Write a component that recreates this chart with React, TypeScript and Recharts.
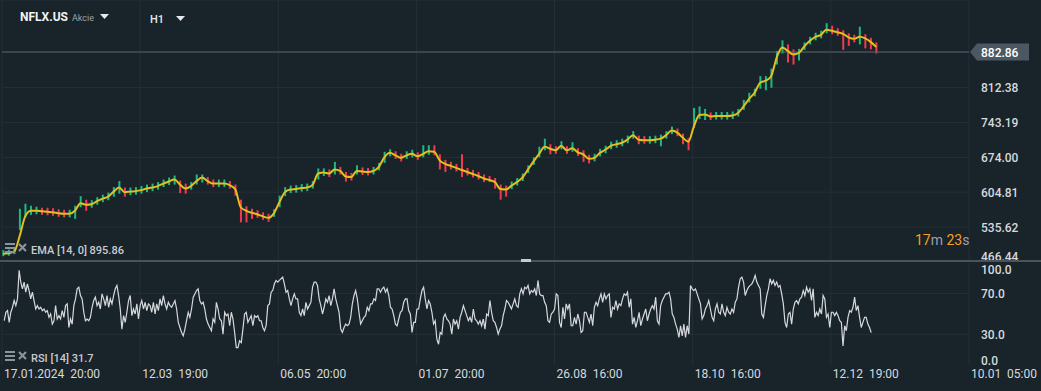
import { Bar, CartesianGrid, Cell, ComposedChart, Line, LineChart, ReferenceLine, XAxis, YAxis } from 'recharts';

const BG = '#19232a';
const GRID = '#252f38';
const AXIS_TEXT = '#d6dadd';
const FONT = 'Roboto, "Noto Sans", sans-serif';

// EMA(14) of NFLX.US, hourly, read every ~10 bars
const emaValues = [
  483, 484, 487, 518, 557, 568, 568, 567, 566, 565,
  563, 562, 562, 568, 583, 580, 581, 587, 592, 596,
  606, 614, 605, 606, 607, 609, 612, 614, 617, 622,
  626, 630, 620, 612, 617, 627, 634, 627, 622, 622,
  622, 619, 611, 575, 568, 564, 561, 557, 554, 563,
  585, 605, 610, 611, 613, 614, 619, 642, 644, 642,
  650, 647, 636, 635, 647, 646, 645, 647, 655, 674,
  683, 678, 673, 678, 681, 676, 681, 686, 685, 668,
  661, 657, 653, 649, 645, 641, 637, 632, 629, 625,
  611, 610, 618, 625, 634, 650, 666, 681, 695, 691,
  688, 697, 688, 692, 684, 680, 671, 673, 683, 689,
  697, 700, 703, 709, 718, 709, 708, 708, 709, 711,
  718, 727, 723, 713, 705, 735, 758, 759, 755, 756,
  756, 756, 757, 762, 775, 790, 802, 822, 826, 835,
  872, 892, 885, 878, 881, 894, 905, 913, 917, 927,
  925, 922, 919, 912, 909, 913, 910, 903, 893,
];

const candleHigh = [
  490, 491, 495, 572, 582, 578, 576, 574, 574, 573,
  571, 570, 570, 578, 597, 590, 589, 595, 600, 604,
  615, 627, 614, 614, 615, 617, 620, 622, 625, 630,
  634, 638, 628, 622, 625, 640, 640, 635, 630, 630,
  630, 627, 620, 590, 577, 572, 569, 565, 562, 571,
  598, 615, 618, 619, 621, 622, 627, 652, 652, 650,
  665, 655, 645, 643, 658, 654, 653, 655, 663, 685,
  690, 686, 681, 686, 689, 684, 698, 698, 698, 680,
  669, 665, 661, 680, 653, 649, 645, 640, 637, 633,
  620, 618, 626, 633, 642, 658, 674, 695, 711, 700,
  696, 706, 696, 704, 692, 688, 679, 681, 691, 697,
  705, 708, 711, 717, 726, 717, 716, 716, 717, 719,
  726, 735, 731, 721, 712, 772, 775, 770, 763, 764,
  764, 764, 765, 770, 788, 802, 810, 835, 835, 850,
  885, 906, 898, 888, 889, 902, 913, 921, 925, 940,
  935, 930, 926, 920, 917, 933, 918, 911, 902,
];

const candleLow = [
  478, 479, 482, 530, 555, 560, 561, 560, 559, 558,
  556, 555, 555, 552, 575, 568, 574, 580, 585, 589,
  596, 602, 596, 599, 600, 602, 605, 607, 610, 615,
  619, 620, 603, 602, 610, 620, 624, 620, 615, 615,
  615, 612, 598, 545, 545, 552, 554, 550, 546, 556,
  575, 597, 603, 604, 606, 607, 612, 630, 637, 635,
  640, 640, 626, 628, 640, 639, 638, 640, 648, 663,
  676, 671, 666, 671, 674, 669, 674, 679, 678, 650,
  645, 650, 646, 635, 638, 634, 630, 625, 625, 612,
  590, 596, 611, 618, 627, 643, 659, 674, 688, 680,
  681, 690, 681, 685, 677, 665, 662, 666, 676, 682,
  690, 693, 696, 702, 711, 700, 701, 701, 702, 696,
  711, 720, 716, 700, 688, 732, 750, 748, 748, 749,
  749, 749, 750, 755, 768, 783, 795, 810, 807, 812,
  858, 880, 862, 858, 866, 887, 898, 906, 910, 920,
  918, 915, 887, 895, 902, 898, 890, 888, 880,
];

// RSI(14), read every ~3 bars
const rsiValues = [
  43.4, 51.7, 53.3, 41.8, 51.7, 56.6, 63.2, 58.2, 64.8, 92.8,
  81.3, 74.7, 81.3, 71.4, 79.6, 73.0, 64.8, 71.4, 63.2, 54.9,
  58.2, 54.9, 56.6, 53.3, 54.9, 51.7, 53.3, 46.7, 50.0, 40.1,
  43.4, 58.2, 45.1, 48.4, 45.1, 53.3, 46.7, 58.2, 59.9, 36.8,
  45.1, 40.1, 58.2, 64.8, 74.7, 76.3, 68.1, 64.8, 51.7, 43.4,
  45.1, 43.4, 46.7, 56.6, 63.2, 66.5, 58.2, 61.5, 54.9, 69.7,
  64.8, 58.2, 68.1, 56.6, 64.8, 59.9, 68.1, 74.7, 78.0, 68.1,
  54.9, 35.2, 48.4, 41.8, 51.7, 63.2, 68.1, 48.4, 54.9, 50.0,
  59.9, 45.1, 58.2, 63.2, 54.9, 61.5, 53.3, 59.9, 58.2, 51.7,
  61.5, 50.0, 59.9, 53.3, 64.8, 58.2, 68.1, 59.9, 54.9, 61.5,
  58.2, 56.6, 59.9, 63.2, 54.9, 41.8, 36.8, 31.9, 28.6, 35.2,
  43.4, 51.7, 46.7, 54.9, 66.5, 69.7, 73.0, 74.7, 63.2, 59.9,
  61.5, 54.9, 45.1, 40.1, 36.8, 33.6, 45.1, 41.8, 61.5, 54.9,
  45.1, 43.4, 30.3, 51.7, 48.4, 50.0, 38.5, 51.7, 45.1, 31.9,
  17.1, 17.1, 23.7, 22.0, 35.2, 50.0, 51.7, 41.8, 45.1, 48.4,
  38.5, 48.4, 46.7, 48.4, 43.4, 43.4, 36.8, 33.6, 38.5, 58.2,
  59.9, 71.4, 73.0, 79.6, 82.9, 81.3, 82.9, 84.6, 86.2, 79.6,
  71.4, 73.0, 64.8, 58.2, 64.8, 69.7, 64.8, 64.8, 51.7, 48.4,
  54.9, 48.4, 61.5, 54.9, 58.2, 61.5, 76.3, 81.3, 81.3, 78.0,
  64.8, 58.2, 50.0, 56.6, 64.8, 61.5, 68.1, 58.2, 64.8, 74.7,
  64.8, 58.2, 51.7, 35.2, 31.9, 36.8, 40.1, 38.5, 40.1, 46.7,
  59.9, 68.1, 73.0, 64.8, 51.7, 40.1, 43.4, 46.7, 48.4, 56.6,
  53.3, 59.9, 59.9, 64.8, 63.2, 74.7, 74.7, 71.4, 74.7, 76.3,
  71.4, 74.7, 68.1, 56.6, 54.9, 48.4, 40.1, 38.5, 45.1, 51.7,
  53.3, 61.5, 64.8, 64.8, 53.3, 50.0, 31.9, 41.8, 41.8, 54.9,
  54.9, 64.8, 73.0, 76.3, 64.8, 54.9, 63.2, 59.9, 51.7, 40.1,
  43.4, 25.3, 20.4, 31.9,
  30.3, 46.7, 50.0, 45.1, 43.4, 40.1, 30.3, 45.1, 40.1, 43.4,
  35.2, 46.7, 51.7, 58.2, 53.3, 48.4, 43.4, 46.7, 41.8, 54.9,
  45.1, 43.4, 40.1, 43.4, 38.5, 45.1, 35.2, 50.0, 48.4, 63.2,
  51.7, 43.4, 41.8, 36.8, 30.3, 35.2, 38.5, 48.4, 54.9, 63.2,
  61.5, 58.2, 54.9, 59.9, 64.8, 58.2, 56.6, 69.7, 74.7, 69.7,
  76.3, 74.7, 78.0, 69.7, 73.0, 71.4, 74.7, 68.1, 82.9, 69.7,
  68.1, 68.1, 61.5, 58.2, 43.4, 41.8, 50.0, 51.7, 54.9, 69.7,
  68.1, 41.8, 36.8, 56.6, 45.1, 59.9, 54.9, 59.9, 38.5, 38.5,
  46.7, 40.1, 50.0, 43.4, 31.9, 33.6, 51.7, 51.7, 46.7, 41.8,
  50.0, 38.5, 56.6, 61.5, 58.2, 64.8, 69.7, 61.5, 69.7, 64.8,
  68.1, 69.7, 46.7, 56.6, 54.9, 63.2, 54.9, 59.9, 58.2, 64.8,
  69.7, 68.1, 71.4, 56.6, 64.8, 40.1, 46.7, 36.8, 43.4, 51.7,
  38.5, 45.1, 50.0, 54.9, 43.4, 50.0, 54.9, 58.2, 54.9, 66.5,
  43.4, 40.1, 58.2, 63.2, 66.5, 69.7, 69.7, 71.4, 64.8, 50.0,
  46.7, 40.1, 35.2, 27.0, 38.5, 28.6, 40.1, 27.0, 38.5, 30.3,
  78.0, 74.7, 73.0, 74.7, 69.7, 64.8, 59.9, 45.1, 48.4, 54.9,
  58.2, 63.2, 54.9, 46.7, 43.4, 54.9, 59.9, 51.7, 50.0, 59.9,
  51.7, 48.4, 56.6, 51.7, 50.0, 54.9, 51.7, 61.5, 64.8, 76.3,
  84.6, 86.2, 81.3, 68.1, 73.0, 76.3, 78.0, 79.6, 82.9, 87.8,
  81.3, 78.0, 74.7, 50.0, 46.7, 58.2, 68.1, 74.7, 84.6, 79.6,
  82.9, 78.0, 81.3, 76.3, 78.0, 69.7, 59.9, 41.8, 36.8, 50.0,
  51.7, 40.1, 54.9, 61.5, 63.2, 59.9, 64.8, 66.5, 73.0, 68.1,
  76.3, 71.4, 74.7, 63.2, 74.7, 46.7, 51.7, 48.4, 54.9, 50.0,
  68.1, 64.8, 46.7, 50.0, 36.8, 51.7, 51.7, 48.4, 51.7, 48.4,
  43.4, 41.8, 18.7, 38.5, 33.6, 46.7, 53.3, 51.7, 56.6, 66.5,
  53.3, 58.2, 46.7, 36.8, 41.8, 46.7, 46.7, 40.1, 36.8, 31.7,
];

const timeTicks = [0, 250, 500, 750, 1000, 1250, 1500, 1750];
const timeLabels = [
  '17.01.2024  20:00',
  '12.03  19:00',
  '06.05  20:00',
  '01.07  20:00',
  '26.08  16:00',
  '18.10  16:00',
  '12.12  19:00',
  '10.01  05:00',
];
const priceTicks = [466.44, 535.62, 604.81, 674.0, 743.19, 812.38];
const lastPrice = 882.86;
const rsiTicks = [0, 30, 70, 100];

const priceData = emaValues.map((ema, i) => ({
  t: 2 + i * 10,
  ema,
  range: [candleLow[i], candleHigh[i]],
  up: i === 0 || ema >= emaValues[i - 1],
}));
const rsiData = rsiValues.map((rsi, k) => ({ t: 4 + k * 3, rsi }));

function PriceTick(props: any) {
  const { x, y, payload } = props;
  const v = payload.value;
  if (v === lastPrice) {
    return (
      <g>
        <path
          d={`M${x - 11},${y} L${x - 4},${y - 8.5} L${x + 48},${y - 8.5} L${x + 48},${y + 8.5} L${x - 4},${y + 8.5} Z`}
          fill="#4b5863"
        />
        <text x={x} y={y} dy={4.5} fill="#ffffff" fontSize={12} fontWeight={500} fontFamily={FONT}>
          {v.toFixed(2)}
        </text>
      </g>
    );
  }
  const dy = v === priceTicks[0] ? -1.5 : 4.5;
  return (
    <text x={x} y={y} dy={dy} fill={AXIS_TEXT} fontSize={12} fontWeight={500} fontFamily={FONT}>
      {v.toFixed(2)}
    </text>
  );
}

function RsiTick(props: any) {
  const { x, y, payload } = props;
  const v = payload.value;
  const dy = v === 100 ? 11 : v === 0 ? 0 : 4.5;
  return (
    <text x={x} y={y} dy={dy} fill={AXIS_TEXT} fontSize={12} fontWeight={500} fontFamily={FONT}>
      {v.toFixed(1)}
    </text>
  );
}

function TimeTick(props: any) {
  const { x, y, index } = props;
  return (
    <text x={x + 2} y={y + 13} fill={AXIS_TEXT} fontSize={12} fontFamily={FONT} style={{ whiteSpace: 'pre' }}>
      {timeLabels[index]}
    </text>
  );
}

function LegendIcons({ top }: { top: number }) {
  return (
    <svg width={26} height={12} style={{ position: 'absolute', left: 4, top }}>
      <rect x={1} y={1} width={10} height={2} fill="#8b949b" />
      <rect x={1} y={5} width={10} height={2} fill="#8b949b" />
      <rect x={1} y={9} width={10} height={2} fill="#8b949b" />
      <path d="M15,2 L22,9 M22,2 L15,9" stroke="#8b949b" strokeWidth={2.2} />
    </svg>
  );
}

function Caret({ left, top }: { left: number; top: number }) {
  return (
    <svg width={9} height={6} style={{ position: 'absolute', left, top }}>
      <path d="M0,0 L9,0 L4.5,5 Z" fill="#e6e9eb" />
    </svg>
  );
}

export default function App() {
  return (
    <div
      style={{
        position: 'absolute',
        left: 0,
        top: 0,
        width: 1041,
        height: 391,
        background: BG,
        overflow: 'hidden',
        fontFamily: FONT,
      }}
    >
      <div style={{ position: 'absolute', left: 0, top: 0 }}>
        <ComposedChart width={1041} height={262} data={priceData} margin={{ top: 0, right: 0, bottom: 0, left: 2 }}>
          <CartesianGrid stroke={GRID} strokeWidth={1} />
          <XAxis dataKey="t" type="number" domain={[0, 1750]} ticks={timeTicks} hide />
          <YAxis
            orientation="right"
            type="number"
            domain={[466.44, 986]}
            ticks={[...priceTicks, lastPrice]}
            width={72}
            axisLine={false}
            tickLine={false}
            tickSize={0}
            tickMargin={12}
            tick={<PriceTick />}
            interval={0}
          />
          <ReferenceLine y={lastPrice} stroke="#56636c" strokeWidth={1} />
          <Bar dataKey="range" barSize={2} isAnimationActive={false}>
            {priceData.map((d) => (
              <Cell key={d.t} fill={d.up ? '#1db982' : '#f33a4f'} />
            ))}
          </Bar>
          <Line
            dataKey="ema"
            type="monotone"
            stroke="#e3c01c"
            strokeWidth={2}
            dot={false}
            isAnimationActive={false}
          />
        </ComposedChart>
      </div>

      <div style={{ position: 'absolute', left: 0, top: 262 }}>
        <LineChart width={1041} height={129} data={rsiData} margin={{ top: 1, right: 0, bottom: 0, left: 2 }}>
          <CartesianGrid stroke={GRID} strokeWidth={1} horizontalValues={[30, 70]} />
          <XAxis
            dataKey="t"
            type="number"
            domain={[0, 1750]}
            ticks={timeTicks}
            height={26}
            axisLine={false}
            tickLine={false}
            tickSize={0}
            tickMargin={0}
            tick={<TimeTick />}
            interval={0}
          />
          <YAxis
            orientation="right"
            type="number"
            domain={[0, 100]}
            ticks={rsiTicks}
            width={72}
            axisLine={false}
            tickLine={false}
            tickSize={0}
            tickMargin={12}
            tick={<RsiTick />}
            interval={0}
          />
          <Line dataKey="rsi" type="linear" stroke="#d6d9dc" strokeWidth={1.2} dot={false} isAnimationActive={false} />
        </LineChart>
      </div>

      {/* panel divider */}
      <div style={{ position: 'absolute', left: 0, top: 260, width: 1041, height: 2, background: '#48535b' }} />
      <div style={{ position: 'absolute', left: 521, top: 259, width: 10, height: 3, background: '#c5cacf' }} />

      {/* header */}
      <div style={{ position: 'absolute', left: 20, top: 10, color: '#f2f4f5', fontSize: 12, fontWeight: 700 }}>NFLX.US</div>
      <div style={{ position: 'absolute', left: 72, top: 13, color: '#9aa3a9', fontSize: 9 }}>Akcie</div>
      <Caret left={100} top={14} />
      <div style={{ position: 'absolute', left: 150, top: 13, color: '#e6e9eb', fontSize: 11, fontWeight: 500 }}>H1</div>
      <Caret left={176} top={16} />

      {/* EMA legend */}
      <LegendIcons top={242} />
      <div style={{ position: 'absolute', left: 31, top: 244, color: '#c8ccd0', fontSize: 11, fontWeight: 500 }}>
        EMA [14, 0] 895.86
      </div>

      {/* countdown */}
      <div style={{ position: 'absolute', left: 915, top: 232, fontSize: 14 }}>
        <span style={{ color: '#f5a01f' }}>17</span>
        <span style={{ color: '#9aa2a8' }}>m </span>
        <span style={{ color: '#f5a01f' }}>23</span>
        <span style={{ color: '#9aa2a8' }}>s</span>
      </div>

      {/* RSI legend */}
      <LegendIcons top={350} />
      <div style={{ position: 'absolute', left: 31, top: 352, color: '#c8ccd0', fontSize: 11, fontWeight: 500 }}>
        RSI [14] 31.7
      </div>
    </div>
  );
}
